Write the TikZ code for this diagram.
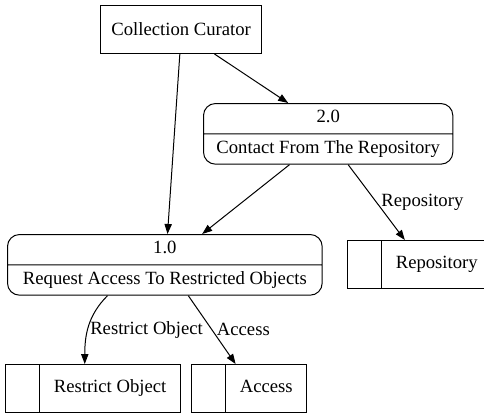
\documentclass[tikz,border=0pt]{standalone}
\usepackage{fontspec}
\setmainfont{Liberation Serif}
\usetikzlibrary{positioning, arrows.meta, shapes.multipart}

\tikzset{
  flow/.style={-{Triangle[length=7.5pt, width=5.5pt]}, line width=0.75pt},
  entity/.style={draw, line width=0.75pt, minimum width=121pt, minimum height=36pt, anchor=north west},
  process/.style={draw, line width=0.75pt, rectangle split, rectangle split parts=2,
    rounded corners=9pt, inner ysep=3pt, anchor=north west},
  datastore/.style={draw, line width=0.75pt, rectangle split, rectangle split horizontal,
    rectangle split parts=2, rectangle split empty part width=0pt,
    inner xsep=10.3pt, inner ysep=10pt, anchor=north west},
}

\begin{document}
\begin{tikzpicture}[x=0.75pt, y=-0.75pt, font=\fontsize{14}{16}\selectfont]
  \useasboundingbox (0,0) rectangle (484,419);
  % external entity and processes
  \node[entity] (curator) at (100,5) {Collection Curator};
  \node[process, minimum width=187pt] (p2) at (203,103)
    {\strut 2.0\nodepart{two}\strut Contact From The Repository};
  \node[process, minimum width=236pt] (p1) at (7,234)
    {\strut 1.0\nodepart{two}\strut Request Access To Restricted Objects};
  % data stores
  \foreach \id/\xx/\yy/\txt in {repo/347/240/Repository, rstore/5/364/Restrict Object, access/191/364/Access} {
    \node[datastore] (\id) at (\xx,\yy) {\nodepart{two}\strut\txt};
  }
  % flows
  \draw[flow] ([xshift=25pt]curator.south) -- ([xshift=-30pt]p2.north);
  \draw[flow] ([xshift=-1pt]curator.south) -- ([xshift=2pt]p1.north);
  \draw[flow] ([xshift=-29pt]p2.south) -- ([xshift=28pt]p1.north);
  \draw[flow] ([xshift=15pt]p2.south) -- node[right, pos=0.5] {Repository} ([xshift=-11pt]repo.north);
  \draw[flow] ([xshift=-43pt]p1.south) to[out=-135, in=90] node[right, pos=0.55, inner sep=1.5pt] {Restrict Object} ([xshift=-6pt]rstore.north);
  \draw[flow] ([xshift=17.6pt]p1.south) -- node[right] {Access} ([xshift=-10pt]access.north);
\end{tikzpicture}
\end{document}
